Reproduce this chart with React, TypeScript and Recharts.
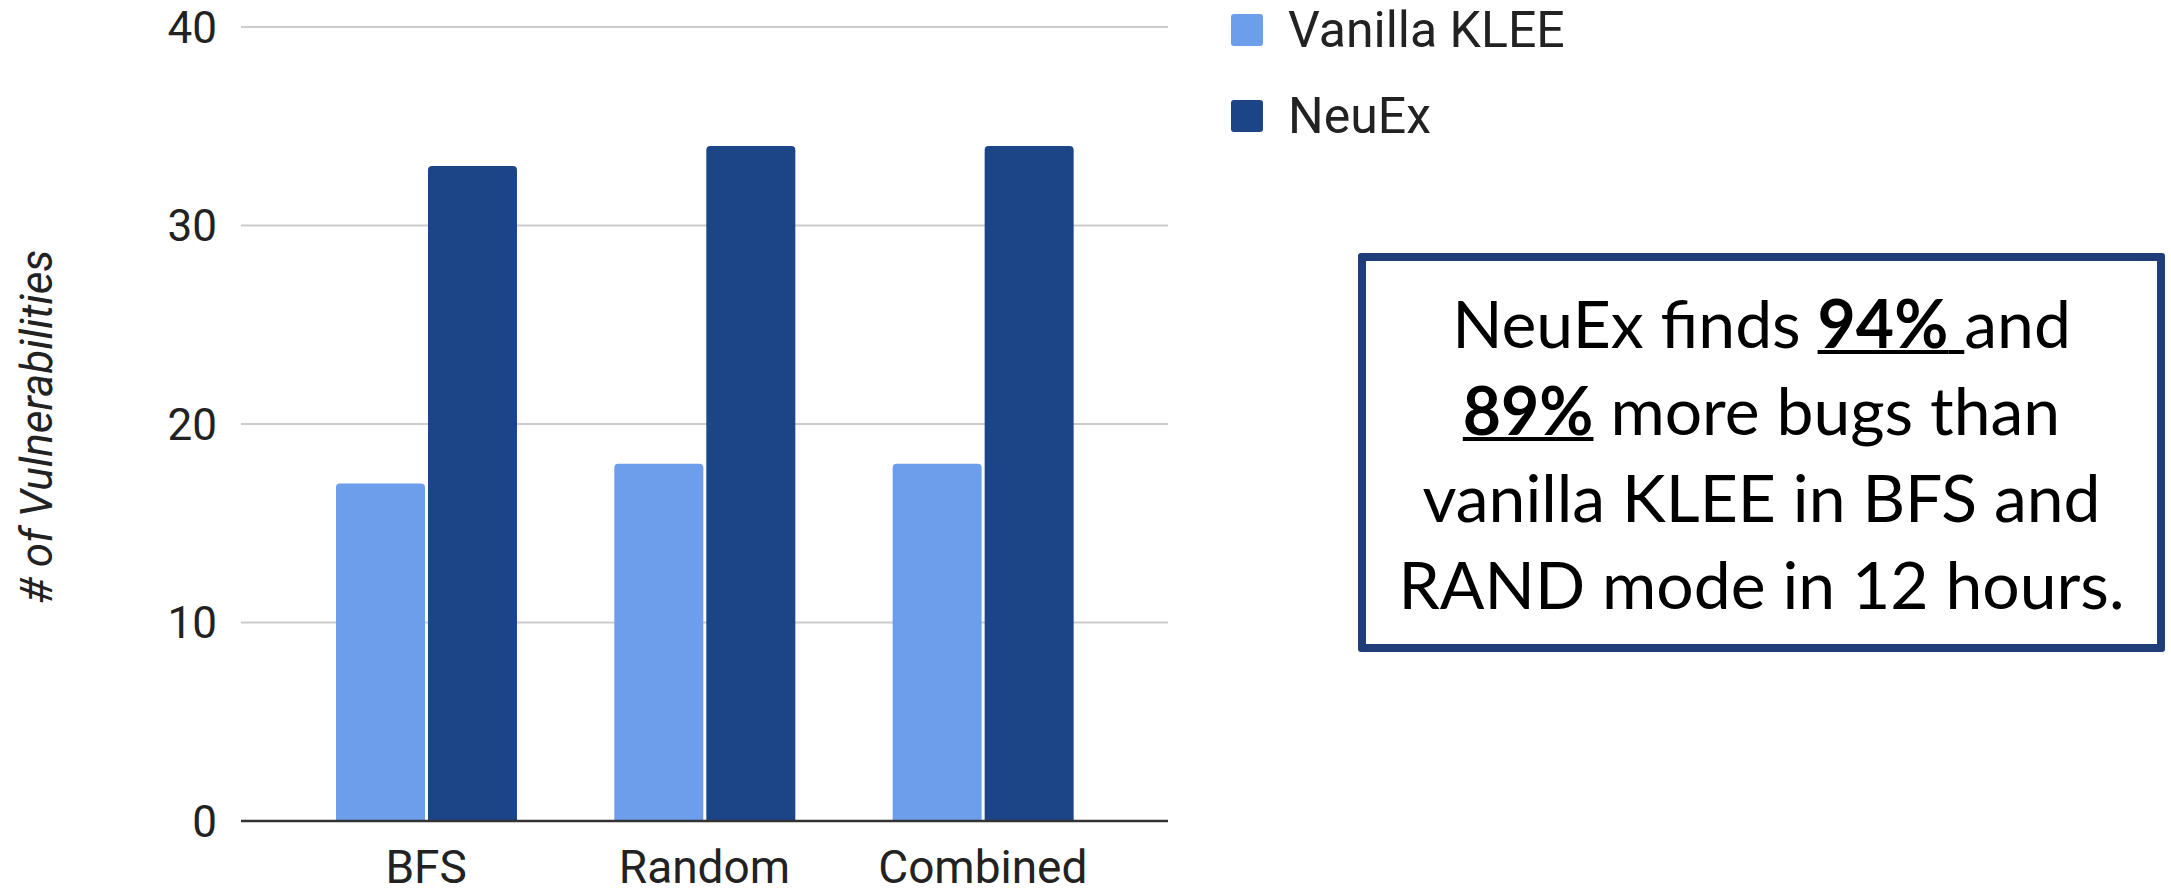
import { BarChart, Bar, XAxis, YAxis, CartesianGrid, Legend } from 'recharts';

const categories = ['BFS', 'Random', 'Combined'];
const vanillaKlee = [17, 18, 18];
const neuEx = [33, 34, 34];
const yTicks = [0, 10, 20, 30, 40];
const seriesOrder = ['Vanilla KLEE', 'NeuEx'];

const data = categories.map((name, i) => ({
  name,
  vanilla: vanillaKlee[i],
  neuex: neuEx[i],
}));

const FONT = 'Roboto, sans-serif';

function renderLegend(props: any) {
  const { payload = [] } = props;
  return (
    <div style={{ fontFamily: FONT }}>
      {payload.map((entry: any) => (
        <div
          key={entry.value}
          style={{ display: 'flex', alignItems: 'center', height: 32, marginBottom: 54 }}
        >
          <span
            style={{
              display: 'inline-block',
              width: 32,
              height: 32,
              borderRadius: 3,
              background: entry.color,
              marginRight: 25,
            }}
          />
          <span style={{ fontSize: 50, color: '#222', whiteSpace: 'nowrap' }}>{entry.value}</span>
        </div>
      ))}
    </div>
  );
}

function AxisTitle(props: any) {
  const { viewBox } = props;
  const cx = viewBox.x + 37;
  const cy = viewBox.y + viewBox.height / 2 + 3;
  return (
    <text
      x={cx}
      y={cy}
      transform={`rotate(-90 ${cx} ${cy})`}
      textAnchor="middle"
      dominantBaseline="central"
      fontFamily={FONT}
      fontStyle="italic"
      fontSize={44}
      fill="#222"
    >
      # of Vulnerabilities
    </text>
  );
}

export default function App() {
  return (
    <div
      style={{
        position: 'absolute',
        left: 0,
        top: 0,
        width: 2171,
        height: 896,
        background: '#fff',
        overflow: 'hidden',
      }}
    >
      <BarChart
        width={2171}
        height={896}
        data={data}
        margin={{ top: 27, right: 1003, bottom: 0, left: 0 }}
        barCategoryGap="17.6%"
        barGap={3}
      >
        <CartesianGrid vertical={false} stroke="#cccccc" strokeWidth={2} />
        <XAxis
          dataKey="name"
          height={75}
          padding={{ left: 46, right: 46 }}
          axisLine={{ stroke: '#333', strokeWidth: 2.5 }}
          tickLine={false}
          tickSize={0}
          tickMargin={29}
          tick={{ fontSize: 46, fill: '#222', fontFamily: FONT }}
        />
        <YAxis
          width={241}
          domain={[0, 40]}
          ticks={yTicks}
          axisLine={false}
          tickLine={false}
          tickSize={0}
          tickMargin={24}
          tick={{ fontSize: 44, fill: '#222', fontFamily: FONT }}
          label={<AxisTitle />}
        />
        <Legend
          layout="vertical"
          align="center"
          verticalAlign="middle"
          itemSorter={(item: any) => seriesOrder.indexOf(item.value)}
          wrapperStyle={{ left: 1231, top: 14, width: 500, height: 200 }}
          content={renderLegend}
        />
        <Bar
          dataKey="vanilla"
          name="Vanilla KLEE"
          fill="#6d9eeb"
          radius={[4, 4, 0, 0]}
          isAnimationActive={false}
        />
        <Bar
          dataKey="neuex"
          name="NeuEx"
          fill="#1c4587"
          radius={[4, 4, 0, 0]}
          isAnimationActive={false}
        />
      </BarChart>
      <div
        style={{
          position: 'absolute',
          left: 1358,
          top: 253,
          width: 807,
          height: 399,
          boxSizing: 'border-box',
          border: '8px solid #1f3e78',
          borderRadius: 3,
          display: 'flex',
          alignItems: 'center',
          justifyContent: 'center',
          textAlign: 'center',
          fontFamily: 'Lato, sans-serif',
          fontSize: 66,
          lineHeight: '87px',
          color: '#000',
        }}
      >
        <div>
          NeuEx finds{' '}
          <span style={{ fontWeight: 700, textDecoration: 'underline', textDecorationThickness: 4 }}>
            94%{' '}
          </span>
          and
          <br />
          <span style={{ fontWeight: 700, textDecoration: 'underline', textDecorationThickness: 4 }}>
            89%
          </span>{' '}
          more bugs than
          <br />
          vanilla KLEE in BFS and
          <br />
          RAND mode in 12 hours.
        </div>
      </div>
    </div>
  );
}
